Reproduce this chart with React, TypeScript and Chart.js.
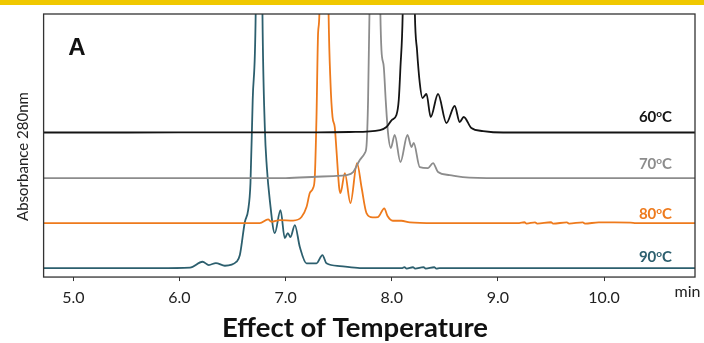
import { useEffect, useRef } from 'react';
import { Chart, registerables } from 'chart.js';

Chart.register(...registerables);

// ---- data ----
const seriesLabels = ['60', '70', '80', '90'];
const seriesColors = ['#141414', '#8c8c8c', '#ee7a1c', '#2c5f6e'];
const xTicks = [5, 6, 7, 8, 9, 10];
const labelX = 10.64;
const labelY = [161, 114, 64, 21];
const yTitle = 'Absorbance 280nm';
const xTitle = 'Effect of Temperature';

const time60 = [4.72, 5.5, 6.5, 7.3, 7.6, 7.89, 7.95, 8.0, 8.044, 8.066, 8.082, 8.103, 8.16, 8.218, 8.238, 8.264, 8.289, 8.327, 8.367, 8.436, 8.515, 8.593, 8.64, 8.678, 8.75, 8.86, 9.05, 10.0, 10.86];
const abs60 = [144.5, 144.5, 144.6, 144.6, 145, 147, 150, 157, 162, 177, 210, 263, 700, 263, 227, 194, 179, 183, 160, 183, 154, 171, 155, 160, 149, 146, 144.5, 144.5, 144.5];

const time70 = [4.72, 6.0, 7.0, 7.29, 7.45, 7.573, 7.636, 7.699, 7.746, 7.762, 7.777, 7.79, 7.84, 7.893, 7.903, 7.925, 7.943, 7.965, 7.991, 8.028, 8.082, 8.148, 8.186, 8.207, 8.264, 8.342, 8.389, 8.436, 8.546, 8.669, 9.0, 10.86];
const abs70 = [99, 99, 99, 100.3, 101, 102, 105, 117, 124, 131, 177, 263, 700, 263, 227, 210, 177, 144, 129, 142, 115, 142, 130, 134, 110, 109, 114, 105, 102, 100, 99, 99];

const time80 = [4.72, 6.0, 6.757, 6.835, 6.867, 6.945, 7.07, 7.15, 7.197, 7.228, 7.259, 7.275, 7.291, 7.306, 7.318, 7.36, 7.405, 7.423, 7.442, 7.463, 7.479, 7.504, 7.517, 7.558, 7.611, 7.673, 7.715, 7.762, 7.82, 7.87, 7.93, 7.96, 8.01, 8.09, 8.17, 8.4, 9.2, 9.25, 9.27, 9.35, 9.37, 9.5, 9.52, 9.65, 9.67, 9.8, 9.82, 9.95, 10.1, 10.25, 10.3, 10.86];
const abs80 = [54, 54, 54, 57.7, 55.3, 57, 56.5, 60, 70, 84, 89, 100, 160, 244, 263, 700, 263, 194, 160, 150, 127, 90, 84, 104, 74, 114, 90, 64, 59.7, 60, 68.7, 61, 56.3, 56.3, 54.7, 54, 54, 54.8, 53.4, 54.7, 53.5, 54.8, 53.4, 54.7, 53.5, 54.7, 53.5, 54.6, 54.6, 54.5, 54, 54];

const time90 = [4.72, 5.8, 6.1, 6.217, 6.277, 6.343, 6.428, 6.538, 6.569, 6.616, 6.647, 6.669, 6.69, 6.718, 6.752, 6.782, 6.804, 6.823, 6.851, 6.898, 6.952, 6.992, 7.021, 7.046, 7.087, 7.134, 7.197, 7.291, 7.347, 7.385, 7.51, 7.7, 8.1, 8.12, 8.14, 8.2, 8.22, 8.3, 8.32, 8.4, 8.42, 8.45, 10.86];
const abs90 = [9, 9, 9.5, 15.3, 12, 14, 11.3, 15.3, 22, 55, 67, 94, 177, 263, 700, 263, 150, 110, 77, 44, 67, 39, 44, 40, 52, 30, 13.7, 13.7, 22, 13.7, 11, 9, 9, 9.9, 8.4, 9.8, 8.5, 9.9, 8.4, 9.8, 8.5, 9, 9];

const times = [time60, time70, time80, time90];
const values = [abs60, abs70, abs80, abs90];

const FONT = 'Lato, "Liberation Sans", sans-serif';

export default function App() {
  const ref = useRef<HTMLCanvasElement | null>(null);

  useEffect(() => {
    document.body.style.margin = '0';
    const canvas = ref.current;
    if (!canvas) return;

    const decor = {
      id: 'decor',
      beforeDraw(chart: any) {
        const ctx = chart.ctx;
        ctx.save();
        ctx.fillStyle = '#f0c800';
        ctx.fillRect(0, 0, chart.width, 5);
        ctx.restore();
      },
      afterDatasetsDraw(chart: any) {
        const { ctx, chartArea } = chart;
        ctx.save();
        ctx.strokeStyle = '#333333';
        ctx.lineWidth = 1.3;
        ctx.strokeRect(chartArea.left, chartArea.top, chartArea.right - chartArea.left, chartArea.bottom - chartArea.top);
        ctx.restore();
      },
      afterDraw(chart: any) {
        const { ctx, chartArea } = chart;
        const xs = chart.scales.x;
        const ys = chart.scales.y;
        ctx.save();
        // y-axis title
        ctx.save();
        ctx.translate(chartArea.left - 20.5, ys.getPixelForValue(120.5));
        ctx.rotate(-Math.PI / 2);
        ctx.fillStyle = '#222';
        ctx.font = '15px ' + FONT;
        ctx.textAlign = 'center';
        ctx.textBaseline = 'middle';
        ctx.fillText(yTitle, 0, 0);
        ctx.restore();
        // panel letter
        ctx.fillStyle = '#111';
        ctx.font = 'bold 24px "Liberation Sans", Arial, sans-serif';
        ctx.textAlign = 'center';
        ctx.textBaseline = 'middle';
        ctx.fillText('A', xs.getPixelForValue(5.034), ys.getPixelForValue(229));
        // series labels
        seriesLabels.forEach((lab, i) => {
          const big = 'bold 15px ' + FONT;
          const small = 'bold 10px ' + FONT;
          ctx.font = big;
          const w1 = ctx.measureText(lab).width;
          const w3 = ctx.measureText('C').width;
          ctx.font = small;
          const w2 = ctx.measureText('o').width;
          const right = xs.getPixelForValue(labelX);
          const cy = ys.getPixelForValue(labelY[i]);
          let x = right - (w1 + w2 + w3);
          ctx.fillStyle = seriesColors[i];
          ctx.textAlign = 'left';
          ctx.textBaseline = 'alphabetic';
          const base = cy + 5.5;
          ctx.font = big;
          ctx.fillText(lab, x, base);
          x += w1;
          ctx.font = small;
          ctx.fillText('o', x, base - 5);
          x += w2;
          ctx.font = big;
          ctx.fillText('C', x, base);
        });
        // unit label
        ctx.fillStyle = '#222';
        ctx.font = '16px ' + FONT;
        ctx.textAlign = 'left';
        ctx.textBaseline = 'alphabetic';
        ctx.fillText('min', xs.getPixelForValue(10.665), chartArea.bottom + 20);
        ctx.restore();
      },
    };

    const chart = new Chart(canvas, {
      type: 'line',
      data: {
        datasets: seriesLabels.map((lab, i) => ({
          label: lab + '°C',
          data: times[i].map((t, j) => ({ x: t, y: values[i][j] })),
          borderColor: seriesColors[i],
          borderWidth: 1.8,
          pointRadius: 0,
          fill: false,
          cubicInterpolationMode: 'monotone' as const,
          clip: 0,
        })),
      },
      options: {
        animation: false,
        responsive: false,
        events: [],
        layout: { padding: { left: 15, right: 9, top: 14, bottom: 0 } },
        plugins: {
          legend: { display: false },
          tooltip: { enabled: false },
          title: {
            display: true,
            position: 'bottom',
            text: xTitle,
            color: '#111',
            font: { family: FONT, size: 27.5, weight: 'bold', lineHeight: 1.1 },
            padding: { top: -1.5, bottom: 0 },
          },
        },
        scales: {
          x: {
            type: 'linear',
            min: 4.72,
            max: 10.857,
            afterBuildTicks: (s: any) => {
              s.ticks = xTicks.map((v) => ({ value: v }));
            },
            grid: { display: true, drawOnChartArea: false, drawTicks: true, tickLength: 4, color: '#333' },
            border: { display: false },
            ticks: {
              padding: 7,
              color: '#222',
              font: { family: FONT, size: 16 },
              callback: (v: any) => Number(v).toFixed(1),
              maxRotation: 0,
            },
          },
          y: {
            type: 'linear',
            min: 0,
            max: 263,
            afterFit: (s: any) => {
              s.width = 28.6;
            },
            grid: { display: false, drawTicks: false },
            border: { display: false },
            ticks: { display: false },
          },
        },
      },
      plugins: [decor],
    } as any);

    return () => chart.destroy();
  }, []);

  return <canvas ref={ref} width={704} height={343} style={{ display: 'block' }} />;
}
